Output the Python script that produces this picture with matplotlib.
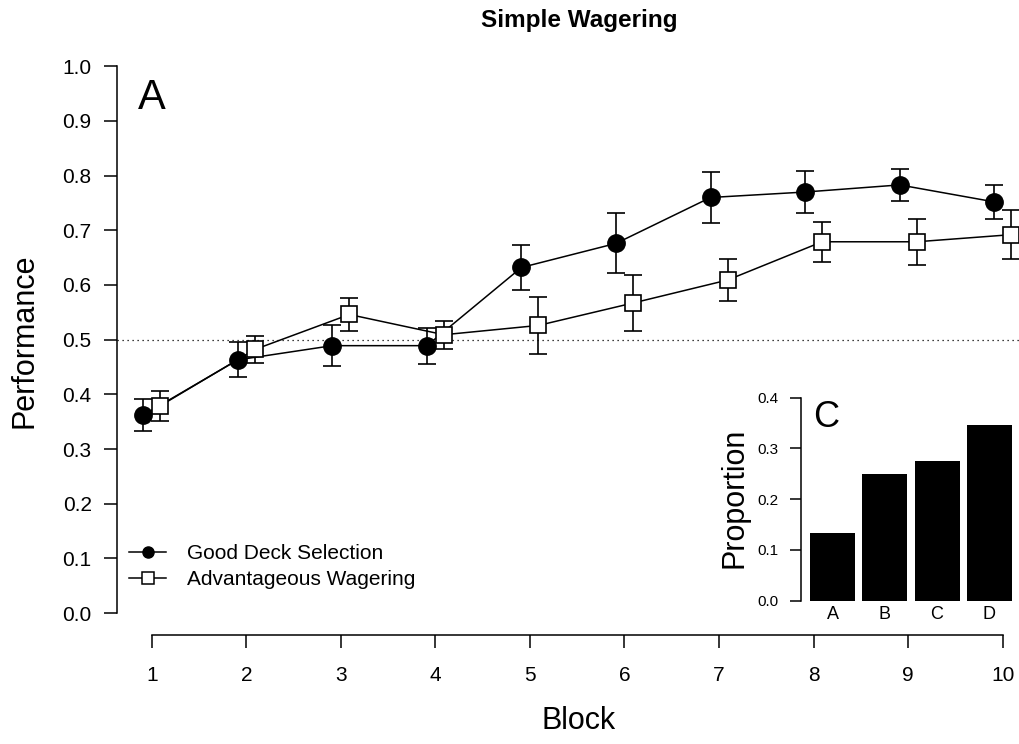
import numpy as np
import matplotlib.pyplot as plt
from matplotlib.lines import Line2D

plt.rcParams['font.family'] = ['Liberation Sans', 'DejaVu Sans']

# per-block means and standard errors
blocks = np.arange(1, 11)
good_mean = [0.362, 0.463, 0.489, 0.489, 0.632, 0.676, 0.760, 0.770, 0.783, 0.752]
good_se = [0.029, 0.032, 0.037, 0.033, 0.041, 0.055, 0.046, 0.038, 0.029, 0.031]
wager_mean = [0.379, 0.482, 0.546, 0.509, 0.526, 0.567, 0.609, 0.679, 0.679, 0.692]
wager_se = [0.027, 0.024, 0.031, 0.026, 0.052, 0.051, 0.039, 0.037, 0.042, 0.045]

# final deck choice proportions for the inset
decks = ['A', 'B', 'C', 'D']
deck_prop = [0.133, 0.250, 0.275, 0.346]

W, H = 1020, 744
fig = plt.figure(figsize=(W / 100, H / 100), dpi=100)

def px_box(left, top, right, bottom):
    return [left / W, 1 - bottom / H, (right - left) / W, (bottom - top) / H]

# main panel
ax = fig.add_axes(px_box(117.3, 44.4, 1020, 634.9))
shift = 0.09

ax.axhline(0.5, color='black', lw=0.9, ls=(0, (1, 3)), zorder=1)

ax.errorbar(blocks - shift, good_mean, yerr=good_se, fmt='none', ecolor='black',
            elinewidth=1.2, capsize=6.5, capthick=1.2, zorder=2)
ax.errorbar(blocks + shift, wager_mean, yerr=wager_se, fmt='none', ecolor='black',
            elinewidth=1.2, capsize=6.5, capthick=1.2, zorder=2)
ax.plot(blocks - shift, good_mean, color='black', lw=1.1, marker='o', ms=12.5,
        mfc='black', mec='black', zorder=3)
ax.plot(blocks + shift, wager_mean, color='black', lw=1.1, marker='s', ms=11.5,
        mfc='white', mec='black', mew=1.2, zorder=4)

ax.set_xlim(0.636, 10.183)
ax.set_ylim(-0.04, 1.04)
ax.spines['top'].set_visible(False)
ax.spines['right'].set_visible(False)
ax.spines['left'].set_bounds(0, 1)
ax.spines['bottom'].set_bounds(1, 10)
for s in ('left', 'bottom'):
    ax.spines[s].set_linewidth(1.1)
ax.set_xticks(blocks)
ax.set_yticks(np.arange(0, 1.01, 0.1))
ax.set_yticklabels([f'{v:.1f}' for v in np.arange(0, 1.01, 0.1)])
ax.tick_params(axis='both', length=9.4, width=1.1, labelsize=15, direction='out')
ax.tick_params(axis='y', pad=9)
ax.tick_params(axis='x', pad=13)

handles = [
    Line2D([], [], color='black', lw=1.1, marker='o', ms=8, mfc='black'),
    Line2D([], [], color='black', lw=1.1, marker='s', ms=8, mfc='white', mew=1.1),
]
ax.legend(handles, ['Good Deck Selection', 'Advantageous Wagering'],
          loc='upper left', bbox_to_anchor=(129 / W, 1 - 544 / H),
          bbox_transform=fig.transFigure, frameon=False, fontsize=15,
          handlelength=1.8, handletextpad=1.0, labelspacing=0.35,
          borderpad=0, borderaxespad=0)

fig.text(138 / W, 1 - 109.3 / H, 'A', fontsize=30, ha='left', va='baseline')
fig.text(579 / W, 1 - 27.5 / H, 'Simple Wagering', fontsize=17.5, fontweight='bold',
         ha='center', va='baseline')
fig.text(579 / W, 1 - 729 / H, 'Block', fontsize=22, ha='center', va='baseline')
fig.text(25 / W, 1 - 340.8 / H, 'Performance', fontsize=22, rotation=90,
         ha='center', va='center')

# inset panel
ins = fig.add_axes(px_box(800.7, 397.7, 1016.7, 600.7))
ins.bar(np.arange(len(decks)), deck_prop, width=0.86, color='black')
ins.set_xlim(-0.608, 3.524)
ins.set_ylim(0, 0.4)
for s in ('top', 'right', 'bottom'):
    ins.spines[s].set_visible(False)
ins.spines['left'].set_linewidth(1.1)
ins.set_yticks([0, 0.1, 0.2, 0.3, 0.4])
ins.set_yticklabels(['0.0', '0.1', '0.2', '0.3', '0.4'])
ins.tick_params(axis='y', length=8, width=1.1, labelsize=11, pad=8)
ins.set_xticks(np.arange(len(decks)))
ins.set_xticklabels(decks)
ins.tick_params(axis='x', length=0, labelsize=13, pad=4)
ins.patch.set_alpha(0)

fig.text(813 / W, 1 - 427.3 / H, 'C', fontsize=26, ha='left', va='baseline')
fig.text(735 / W, 1 - 498 / H, 'Proportion', fontsize=22, rotation=90,
         ha='center', va='center')

fig.savefig('out.png', dpi=100)
